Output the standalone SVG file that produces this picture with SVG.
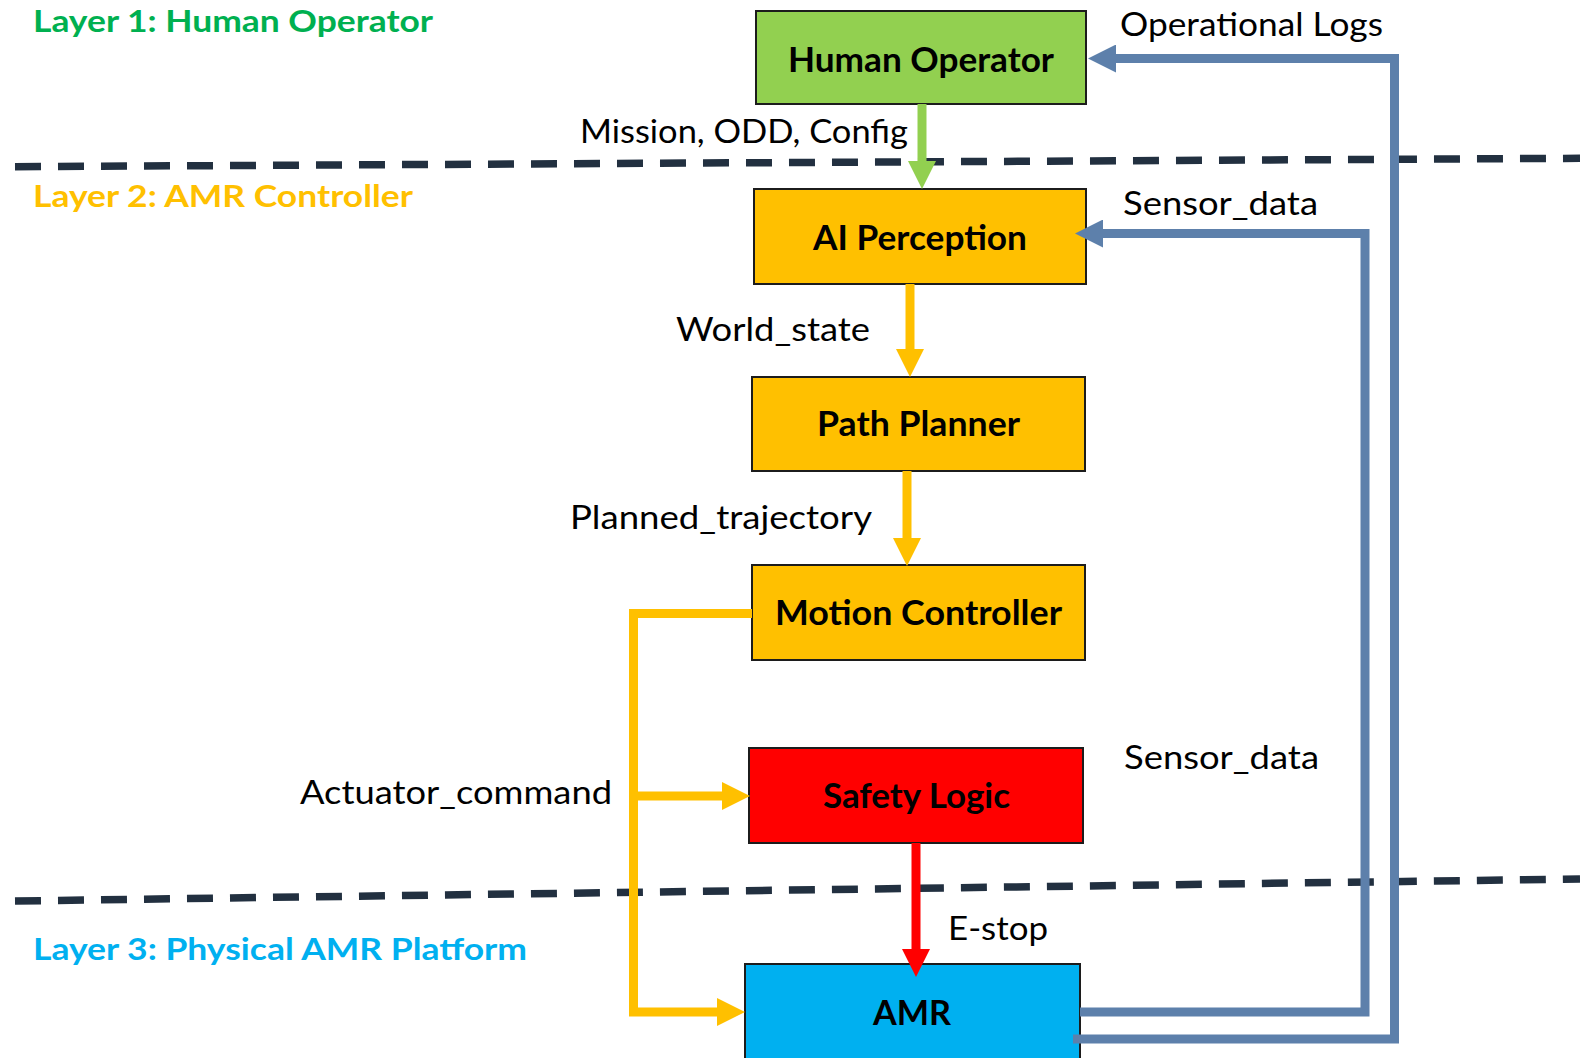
<svg xmlns="http://www.w3.org/2000/svg" width="1580" height="1058" viewBox="0 0 1580 1058">
<style>
.node rect{stroke:#1c1c1c;stroke-width:2}
.ntxt{font-family:Lato,"Open Sans","Liberation Sans",sans-serif;font-weight:700;font-size:34px;fill:#000}
.lbl{font-family:Lato,"Open Sans","Liberation Sans",sans-serif;font-size:33px;fill:#000}
.layer{font-family:Lato,"Open Sans","Liberation Sans",sans-serif;font-weight:700;font-size:31px}
.dash{fill:none;stroke:#223040;stroke-width:7.5;stroke-dasharray:26 17}
.c{fill:none;stroke-width:9;stroke-linejoin:miter}
</style>
<defs>
<marker id="ag" viewBox="0 0 28 28" markerWidth="28" markerHeight="28" refX="1" refY="14" orient="auto" markerUnits="userSpaceOnUse"><path d="M0,0 L28,14 L0,28 z" fill="#92D050"/></marker>
<marker id="ay" viewBox="0 0 28 28" markerWidth="28" markerHeight="28" refX="1" refY="14" orient="auto" markerUnits="userSpaceOnUse"><path d="M0,0 L28,14 L0,28 z" fill="#FFC000"/></marker>
<marker id="ar" viewBox="0 0 28 28" markerWidth="28" markerHeight="28" refX="1" refY="14" orient="auto" markerUnits="userSpaceOnUse"><path d="M0,0 L28,14 L0,28 z" fill="#FF0000"/></marker>
<marker id="ab" viewBox="0 0 28 28" markerWidth="28" markerHeight="28" refX="1" refY="14" orient="auto" markerUnits="userSpaceOnUse"><path d="M0,0 L28,14 L0,28 z" fill="#5D80AB"/></marker>
</defs>
<rect width="1580" height="1058" fill="#fff"/>

<g id="layers">
<path class="dash" d="M15,166.7 L1580,158.3"/>
<path class="dash" d="M15,901 L1580,879"/>
<text class="layer" x="33" y="32" fill="#00B050" textLength="400" lengthAdjust="spacingAndGlyphs">Layer 1: Human Operator</text>
<text class="layer" x="33" y="207" fill="#FFC000" textLength="380" lengthAdjust="spacingAndGlyphs">Layer 2: AMR Controller</text>
<text class="layer" x="33" y="960" fill="#00B0F0" textLength="494" lengthAdjust="spacingAndGlyphs">Layer 3: Physical AMR Platform</text>
</g>

<g id="human-operator" class="node">
<rect x="756" y="11" width="330" height="93" fill="#92D050"/>
<text class="ntxt" x="788" y="72" textLength="266" lengthAdjust="spacingAndGlyphs">Human Operator</text>
</g>
<g id="ai-perception" class="node">
<rect x="754" y="189" width="332" height="95" fill="#FFC000"/>
<text class="ntxt" x="813" y="250" textLength="214" lengthAdjust="spacingAndGlyphs">AI Perception</text>
</g>
<g id="path-planner" class="node">
<rect x="752" y="377" width="333" height="94" fill="#FFC000"/>
<text class="ntxt" x="817" y="436" textLength="203" lengthAdjust="spacingAndGlyphs">Path Planner</text>
</g>
<g id="motion-controller" class="node">
<rect x="752" y="565" width="333" height="95" fill="#FFC000"/>
<text class="ntxt" x="775" y="625" textLength="287" lengthAdjust="spacingAndGlyphs">Motion Controller</text>
</g>
<g id="safety-logic" class="node">
<rect x="749" y="748" width="334" height="95" fill="#FF0000"/>
<text class="ntxt" x="823" y="808" textLength="187" lengthAdjust="spacingAndGlyphs">Safety Logic</text>
</g>
<g id="amr" class="node">
<rect x="745" y="964" width="335" height="100" fill="#00B0F0"/>
<text class="ntxt" x="873" y="1025" textLength="78" lengthAdjust="spacingAndGlyphs">AMR</text>
</g>

<g id="connectors">
<path class="c" stroke="#92D050" d="M922,104 V162" marker-end="url(#ag)"/>
<path class="c" stroke="#FFC000" d="M910,284 V350" marker-end="url(#ay)"/>
<path class="c" stroke="#FFC000" d="M907,471 V539" marker-end="url(#ay)"/>
<path class="c" stroke="#FFC000" d="M752,613.5 H633.5 V1012 H718" marker-end="url(#ay)"/>
<path class="c" stroke="#FFC000" d="M633.5,796 H723" marker-end="url(#ay)"/>
<path class="c" stroke="#FF0000" d="M916,843 V950" marker-end="url(#ar)"/>
<path class="c" stroke="#5D80AB" d="M1080,1012 H1365 V233.5 H1102" marker-end="url(#ab)"/>
<path class="c" stroke="#5D80AB" d="M1073,1039 H1394.5 V58.5 H1115" marker-end="url(#ab)"/>
<text class="lbl" x="1120" y="36" textLength="263" lengthAdjust="spacingAndGlyphs">Operational Logs</text>
<text class="lbl" x="580" y="143" textLength="328" lengthAdjust="spacingAndGlyphs">Mission, ODD, Config</text>
<text class="lbl" x="1123" y="215" textLength="195" lengthAdjust="spacingAndGlyphs">Sensor_data</text>
<text class="lbl" x="676" y="341" textLength="194" lengthAdjust="spacingAndGlyphs">World_state</text>
<text class="lbl" x="570" y="529" textLength="302" lengthAdjust="spacingAndGlyphs">Planned_trajectory</text>
<text class="lbl" x="300" y="804" textLength="312" lengthAdjust="spacingAndGlyphs">Actuator_command</text>
<text class="lbl" x="1124" y="769" textLength="195" lengthAdjust="spacingAndGlyphs">Sensor_data</text>
<text class="lbl" x="948" y="940" textLength="100" lengthAdjust="spacingAndGlyphs">E-stop</text>
</g>
</svg>
